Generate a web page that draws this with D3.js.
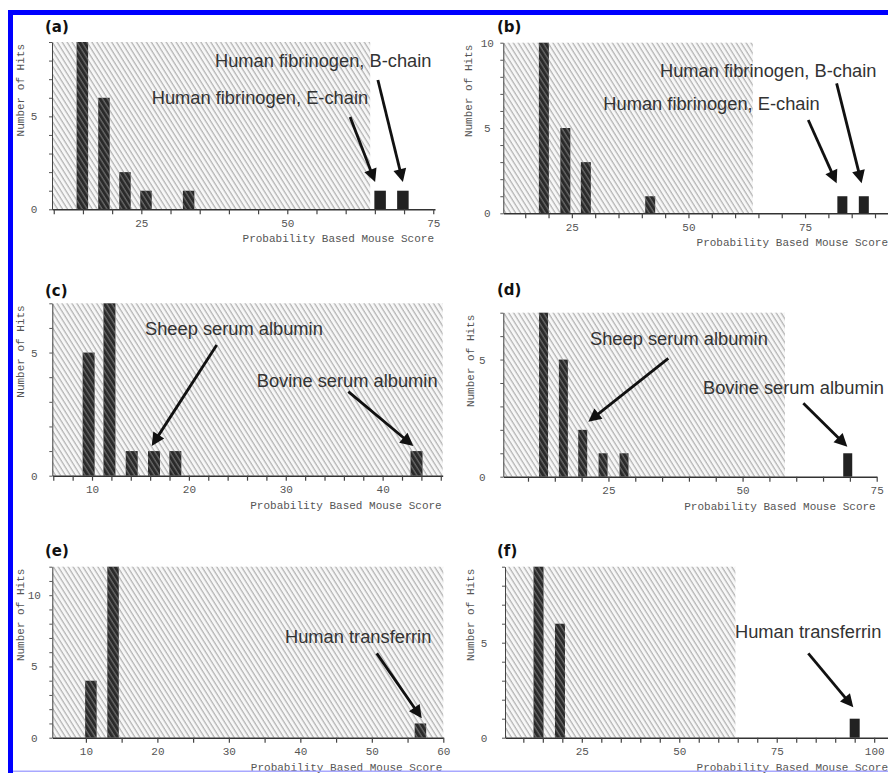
<!DOCTYPE html>
<html>
<head>
<meta charset="utf-8">
<script src="https://cdn.jsdelivr.net/npm/d3@7"></script>
<style>
  body { margin: 0; background: #fff; }
  svg { display: block; }
  .axis text, .axis-title { font-family: "Liberation Mono", "DejaVu Sans Mono", monospace; font-size: 11px; fill: #555; }
  .panel-label { font-family: "DejaVu Sans", sans-serif; font-weight: bold; font-size: 15px; fill: #111; }
  .note { font-family: "Liberation Sans", Arial, sans-serif; font-size: 18.3px; fill: #333; }
</style>
</head>
<body>
<svg id="chart" width="888" height="773"></svg>
<script>
// bar centres (score) and number of hits, one pair per panel
const scoresA = [14.9, 18.6, 22.2, 25.8, 33.1, 65.9, 69.8];
const hitsA   = [9, 6, 2, 1, 1, 1, 1];
const scoresB = [19.0, 23.6, 28.0, 41.8, 83.0, 87.6];
const hitsB   = [10, 5, 3, 1, 1, 1];
const scoresC = [9.65, 11.8, 14.1, 16.4, 18.6, 43.5];
const hitsC   = [5, 7, 1, 1, 1, 1];
const scoresD = [12.9, 16.6, 20.2, 24.0, 27.9, 69.6];
const hitsD   = [7, 5, 2, 1, 1, 1];
const scoresE = [10.7, 13.8, 56.8];
const hitsE   = [4, 12, 1];
const scoresF = [13.9, 19.4, 95.0];
const hitsF   = [9, 6, 1];

// score below which matches are not significant (hatched)
const thresholds = [64.2, 63.8, 46.2, 57.9, 60, 64.4];
const xDomains = [[9.7, 75.3], [10.3, 93], [5.9, 46.2], [5.4, 75], [5.3, 60], [5.3, 103.8]];
const yMaxes = [9, 10, 7, 7, 12, 9];
const xTickSteps = [5, 5, 2, 5, 5, 5];
const xLabelSteps = [25, 25, 10, 25, 10, 25];
const panelNames = ['(a)', '(b)', '(c)', '(d)', '(e)', '(f)'];

const notesA = ['Human fibrinogen, E-chain', 'Human fibrinogen, B-chain'];
const notesB = ['Human fibrinogen, E-chain', 'Human fibrinogen, B-chain'];
const notesC = ['Sheep serum albumin', 'Bovine serum albumin'];
const notesD = ['Sheep serum albumin', 'Bovine serum albumin'];
const notesE = ['Human transferrin'];
const notesF = ['Human transferrin'];

const xTitle = 'Probability Based Mouse Score';
const yTitle = 'Number of Hits';

// layout of each panel on the page
const layout = [
  {left: 52, right: 435, top: 42, bottom: 209.3, barW: 11.5, yTitleX: 20, labelX: 45, labelY: 32, yLabDx: -18,
   notes: [{bar: 5, tx: 151.7, ty: 104, tip: [-5, -8.7], tail: [-25, -65]},
           {bar: 6, tx: 215, ty: 67, tip: [0, -8.7], tail: [-25, -102]}]},
  {left: 503.3, right: 889, top: 42.7, bottom: 213.3, barW: 10, yTitleX: 468.3, labelX: 497, labelY: 32, yLabDx: -16,
   notes: [{bar: 4, tx: 603.3, ty: 110, tip: [-5.7, -12.9], tail: [-28.4, -63.3]},
           {bar: 5, tx: 660, ty: 77, tip: [-2.2, -12.9], tail: [-25, -100]}]},
  {left: 52.3, right: 442.7, top: 303.3, bottom: 475.7, barW: 12, yTitleX: 20, labelX: 45, labelY: 296, yLabDx: -18,
   notes: [{bar: 3, tx: 145, ty: 335, tip: [-2.3, -5.1], tail: [65, -101]},
           {bar: 5, tx: 256.7, ty: 387, tip: [-3.2, -5.1], tail: [-65, -54.3]}]},
  {left: 503.3, right: 876.7, top: 312.7, bottom: 476.7, barW: 9, yTitleX: 470, labelX: 497, labelY: 295, yLabDx: -21,
   notes: [{bar: 2, tx: 590, ty: 345, tip: [5.6, -8.1], tail: [80, -63.4]},
           {bar: 5, tx: 703, ty: 394, tip: [-0.4, -6.6], tail: [-44, -43.4]}]},
  {left: 52.3, right: 443.3, top: 566.7, bottom: 737.7, barW: 11.5, yTitleX: 20, labelX: 45, labelY: 556, yLabDx: -18,
   notes: [{bar: 2, tx: 285, ty: 643, tip: [1.3, -5.1], tail: [-45, -65]}]},
  {left: 505, right: 889, top: 566.7, bottom: 737.7, barW: 10, yTitleX: 470, labelX: 497, labelY: 556, yLabDx: -21,
   notes: [{bar: 2, tx: 735, ty: 638, tip: [-1.4, -11.4], tail: [-45, -54]}]}
];

const allScores = [scoresA, scoresB, scoresC, scoresD, scoresE, scoresF];
const allHits = [hitsA, hitsB, hitsC, hitsD, hitsE, hitsF];
const allNotes = [notesA, notesB, notesC, notesD, notesE, notesF];

const svg = d3.select('#chart');
const defs = svg.append('defs');

// light hatching for the non-significant region
const hatch = defs.append('pattern')
  .attr('id', 'hatch')
  .attr('patternUnits', 'userSpaceOnUse')
  .attr('width', 4.2).attr('height', 10)
  .attr('patternTransform', 'rotate(-32)');
hatch.append('rect').attr('width', 4.2).attr('height', 10).attr('fill', '#f7f7f7');
hatch.append('line').attr('x1', 1).attr('x2', 1).attr('y1', 0).attr('y2', 10)
  .attr('stroke', '#a2a2a2').attr('stroke-width', 1);

// darker hatching for bars inside that region
const barHatch = defs.append('pattern')
  .attr('id', 'barHatch')
  .attr('patternUnits', 'userSpaceOnUse')
  .attr('width', 4.2).attr('height', 10)
  .attr('patternTransform', 'rotate(-32)');
barHatch.append('rect').attr('width', 4.2).attr('height', 10).attr('fill', '#2a2a2a');
barHatch.append('line').attr('x1', 1).attr('x2', 1).attr('y1', 0).attr('y2', 10)
  .attr('stroke', '#6a6a6a').attr('stroke-width', 1.3);

layout.forEach((p, i) => drawPanel(p, i));

function drawPanel(p, i) {
  const scores = allScores[i], hits = allHits[i], yMax = yMaxes[i];
  const threshold = thresholds[i];
  const x = d3.scaleLinear().domain(xDomains[i]).range([p.left, p.right]);
  const y = d3.scaleLinear().domain([0, yMax]).range([p.bottom, p.top]);
  const g = svg.append('g');

  g.append('rect')
    .attr('x', p.left)
    .attr('y', y(yMax))
    .attr('width', x(Math.min(threshold, xDomains[i][1])) - p.left)
    .attr('height', y(0) - y(yMax))
    .attr('fill', 'url(#hatch)');

  const data = scores.map((s, k) => ({score: s, hits: hits[k]}));
  g.selectAll('.bar')
    .data(data)
    .join('rect')
    .attr('class', 'bar')
    .attr('x', d => x(d.score) - p.barW / 2)
    .attr('y', d => y(d.hits))
    .attr('width', p.barW)
    .attr('height', d => y(0) - y(d.hits))
    .attr('fill', d => d.score < threshold ? 'url(#barHatch)' : '#222');

  // x axis
  const step = xTickSteps[i], labStep = xLabelSteps[i];
  const xTicks = d3.range(Math.ceil(xDomains[i][0] / step) * step, xDomains[i][1] + 0.01, step);
  const xAxis = g.append('g')
    .attr('class', 'axis')
    .attr('transform', 'translate(0,' + y(0) + ')')
    .call(d3.axisBottom(x)
      .tickValues(xTicks)
      .tickSize(5)
      .tickSizeOuter(0)
      .tickPadding(5)
      .tickFormat(d => d % labStep === 0 ? d : ''));
  xAxis.select('.domain').attr('stroke', '#333').attr('stroke-width', 1.6);
  xAxis.selectAll('.tick line').attr('stroke', '#444').attr('stroke-width', 1.2);

  // y axis
  const yAxis = g.append('g')
    .attr('class', 'axis')
    .attr('transform', 'translate(' + p.left + ',0)')
    .call(d3.axisLeft(y)
      .tickValues(d3.range(0, yMax + 1))
      .tickSize(3)
      .tickSizeOuter(0)
      .tickFormat(d => d % 5 === 0 ? d : ''));
  yAxis.select('.domain').attr('stroke', '#444').attr('stroke-width', 1);
  yAxis.selectAll('.tick line').attr('stroke', '#555');
  yAxis.selectAll('.tick text').attr('text-anchor', 'middle').attr('x', p.yLabDx);

  g.append('text')
    .attr('class', 'axis-title')
    .attr('x', p.right - 1)
    .attr('y', y(0) + 33)
    .attr('text-anchor', 'end')
    .text(xTitle);

  g.append('text')
    .attr('class', 'axis-title')
    .attr('transform', 'translate(' + p.yTitleX + ',' + (p.top + 2) + ') rotate(-90)')
    .attr('dy', '0.35em')
    .attr('text-anchor', 'end')
    .text(yTitle);

  g.append('text')
    .attr('class', 'panel-label')
    .attr('x', p.labelX)
    .attr('y', p.labelY)
    .text(panelNames[i]);

  // labelled arrows pointing at the spiked proteins
  p.notes.forEach((n, k) => {
    const d = data[n.bar];
    const tip = [x(d.score) + n.tip[0], y(d.hits) + n.tip[1]];
    const tail = [tip[0] + n.tail[0], tip[1] + n.tail[1]];
    const len = Math.hypot(n.tail[0], n.tail[1]);
    const ux = -n.tail[0] / len, uy = -n.tail[1] / len;
    const head = 13, half = 6.5;
    const base = [tip[0] - ux * head, tip[1] - uy * head];

    g.append('line')
      .attr('x1', tail[0]).attr('y1', tail[1])
      .attr('x2', base[0] + ux * 1).attr('y2', base[1] + uy * 1)
      .attr('stroke', '#111').attr('stroke-width', 2.8);
    g.append('path')
      .attr('d', 'M' + tip[0] + ',' + tip[1] +
        'L' + (base[0] - uy * half) + ',' + (base[1] + ux * half) +
        'L' + (base[0] + uy * half) + ',' + (base[1] - ux * half) + 'Z')
      .attr('fill', '#111');

    g.append('text')
      .attr('class', 'note')
      .attr('x', n.tx)
      .attr('y', n.ty)
      .text(allNotes[i][k]);
  });
}

// blue frame round the figure
svg.append('rect').attr('x', 8).attr('y', 10).attr('width', 880).attr('height', 5).attr('fill', '#0000ff');
svg.append('rect').attr('x', 8).attr('y', 10).attr('width', 5).attr('height', 763).attr('fill', '#0000ff');
svg.append('rect').attr('x', 13).attr('y', 770.5).attr('width', 875).attr('height', 1.5).attr('fill', '#a8a8ff');
</script>
</body>
</html>
